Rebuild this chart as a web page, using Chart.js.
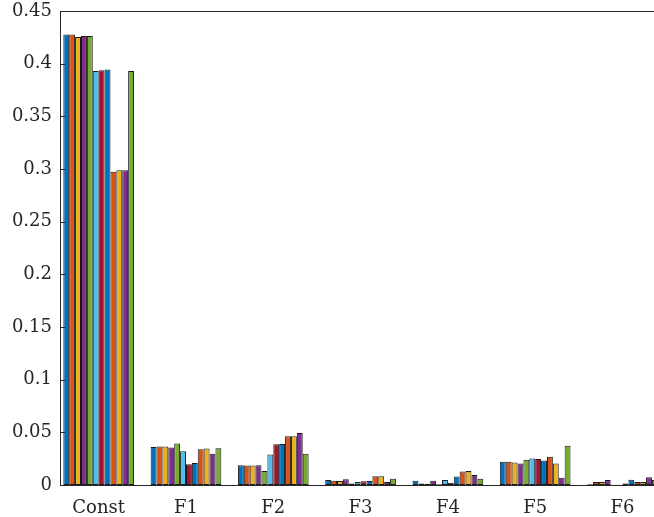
<!DOCTYPE html>
<html>
<head>
<meta charset="utf-8">
<script src="https://cdn.jsdelivr.net/npm/chart.js@4/dist/chart.umd.min.js"></script>
<style>
  html, body { margin: 0; padding: 0; background: #fff; }
  #wrap { width: 654px; height: 517px; }
</style>
</head>
<body>
<div id="wrap"><canvas id="chart"></canvas></div>
<script>
//Categories on the x axis
const groups = ["Const", "F1", "F2", "F3", "F4", "F5", "F6"];

//Bar heights, one array per group (12 bars each)
const constVals = [0.4276, 0.4276, 0.4254, 0.4263, 0.4263, 0.3931, 0.3938, 0.3944, 0.2973, 0.2987, 0.2987, 0.3931];
const f1Vals = [0.0360, 0.0366, 0.0366, 0.0356, 0.0395, 0.0320, 0.0197, 0.0210, 0.0340, 0.0347, 0.0296, 0.0350];
const f2Vals = [0.0188, 0.0185, 0.0185, 0.0188, 0.0134, 0.0290, 0.0388, 0.0390, 0.0462, 0.0462, 0.0494, 0.0296];
const f3Vals = [0.0048, 0.0041, 0.0038, 0.0054, 0.0015, 0.0029, 0.0035, 0.0038, 0.0083, 0.0083, 0.0029, 0.0060];
const f4Vals = [0.0041, 0.0015, 0.0012, 0.0041, 0.0006, 0.0048, 0.0022, 0.0080, 0.0127, 0.0134, 0.0096, 0.0060];
const f5Vals = [0.0220, 0.0220, 0.0214, 0.0204, 0.0239, 0.0251, 0.0248, 0.0232, 0.0268, 0.0204, 0.0070, 0.0373];
const f6Vals = [0.0006, 0.0029, 0.0029, 0.0048, 0.0003, 0.0003, 0.0015, 0.0051, 0.0029, 0.0029, 0.0073, 0.0048];

//Y tick values
const yTicks = [0, 0.05, 0.1, 0.15, 0.2, 0.25, 0.3, 0.35, 0.4, 0.45];

//MATLAB default colour order, repeated
const palette = ["#0072BD", "#D95319", "#EDB120", "#7E2F8E", "#77AC30", "#4DBEEE", "#A2142F"];

const axisColor = "#262626";
const allGroups = [constVals, f1Vals, f2Vals, f3Vals, f4Vals, f5Vals, f6Vals];

const datasets = [];
for (let s = 0; s < constVals.length; s++) {
    datasets.push({
        label: "Series " + (s + 1),
        data: allGroups.map((g, i) => ({ x: i + 1, y: g[s] })),
        backgroundColor: palette[s % palette.length],
        borderColor: "#1a1a1a",
        borderWidth: 1,
        borderSkipped: false,
        categoryPercentage: 0.81,
        barPercentage: 1.0
    });
}

//Box top line and inward ticks like matlab
const frame = {
    id: "frame",
    afterDraw(chart) {
        const ctx = chart.ctx;
        const area = chart.chartArea;
        const y = chart.scales.y;
        ctx.save();
        ctx.strokeStyle = axisColor;
        ctx.lineWidth = 1;
        ctx.beginPath();
        ctx.moveTo(area.left, Math.round(area.top) + 0.5);
        ctx.lineTo(area.right, Math.round(area.top) + 0.5);
        yTicks.forEach((v) => {
            const py = Math.round(y.getPixelForValue(v)) + 0.5;
            ctx.moveTo(area.left, py);
            ctx.lineTo(area.left + 5, py);
        });
        ctx.stroke();
        ctx.restore();
    }
};

Chart.defaults.font.family = "'DejaVu Serif', serif";
Chart.defaults.font.size = 18;
Chart.defaults.color = axisColor;

new Chart(document.getElementById("chart"), {
    type: "bar",
    data: { datasets: datasets },
    options: {
        responsive: true,
        maintainAspectRatio: false,
        animation: false,
        layout: { padding: { top: 11, right: 0, bottom: 0, left: 0 } },
        plugins: {
            legend: { display: false },
            tooltip: { enabled: false }
        },
        scales: {
            x: {
                type: "linear",
                offset: false,
                min: 0.557,
                max: 7.361,
                grid: { display: false, drawTicks: false },
                border: { display: true, color: axisColor, width: 1 },
                ticks: {
                    stepSize: 1,
                    includeBounds: false,
                    padding: 13,
                    maxRotation: 0,
                    autoSkip: false,
                    callback: (v) => groups[v - 1] || ""
                },
                afterFit: (scale) => { scale.height = 32; }
            },
            y: {
                min: 0,
                max: 0.45,
                grid: { display: false, drawTicks: false },
                border: { display: true, color: axisColor, width: 1 },
                ticks: {
                    stepSize: 0.05,
                    padding: 8,
                    callback: (v) => parseFloat(v.toFixed(2)).toString()
                },
                afterFit: (scale) => {
                    scale.width = 60;
                    scale.paddingTop = 0;
                    scale.paddingBottom = 0;
                }
            }
        }
    },
    plugins: [frame]
});
</script>
</body>
</html>
